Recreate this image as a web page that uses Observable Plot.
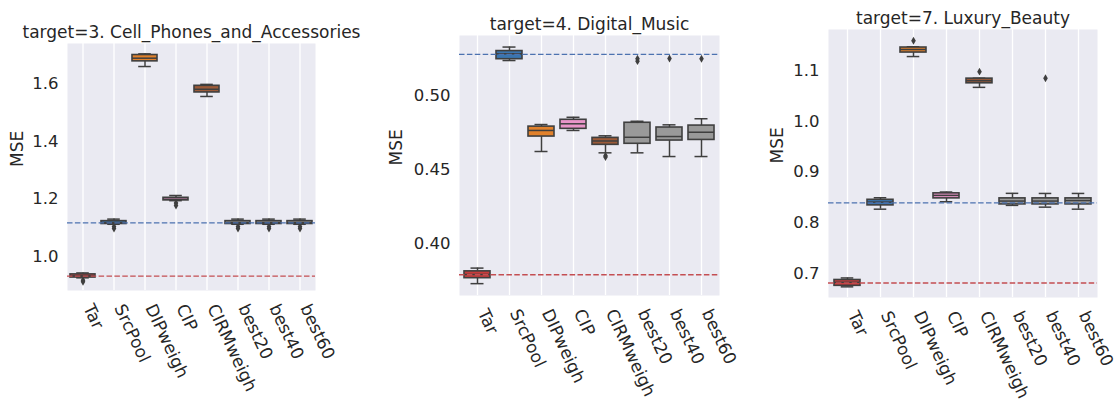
<!DOCTYPE html>
<html><head><meta charset="utf-8">
<script src="https://cdn.jsdelivr.net/npm/d3@7"></script>
<script src="https://cdn.jsdelivr.net/npm/@observablehq/plot@0.6"></script>
<style>
body{margin:0;background:#fff;}
#wrap{position:relative;width:1120px;height:404px;font-family:"DejaVu Sans",sans-serif;}
.panel{position:absolute;top:0;}
</style></head><body><div id="wrap"></div>
<script>
// ---------- data ----------
const categories = ["Tar","SrcPool","DIPweigh","CIP","CIRMweigh","best20","best40","best60"];
const boxColors  = ["#c83b3b","#3a75af","#e1812c","#e995c9","#9c5a38","#999999","#999999","#999999"];

// Panel 1: target=3. Cell_Phones_and_Accessories
const cellTitle = "target=3. Cell_Phones_and_Accessories";
const cellLo  = [0.926, 1.112, 1.660, 1.194, 1.556, 1.112, 1.112, 1.112];
const cellQ1  = [0.927, 1.113, 1.678, 1.195, 1.570, 1.113, 1.113, 1.113];
const cellMed = [0.933, 1.118, 1.689, 1.199, 1.581, 1.118, 1.118, 1.118];
const cellQ3  = [0.938, 1.123, 1.700, 1.204, 1.593, 1.123, 1.123, 1.123];
const cellHi  = [0.943, 1.130, 1.704, 1.212, 1.598, 1.130, 1.130, 1.130];
const cellOutCat = ["Tar","Tar","SrcPool","SrcPool","CIP","CIP","best20","best20","best40","best40","best60","best60"];
const cellOutVal = [0.918, 0.912, 1.104, 1.097, 1.186, 1.177, 1.104, 1.097, 1.104, 1.097, 1.104, 1.097];
const cellSrcLine = 1.117, cellTarLine = 0.932;
const cellTicks = [1.0, 1.2, 1.4, 1.6];

// Panel 2: target=4. Digital_Music
const musicTitle = "target=4. Digital_Music";
const musicLo  = [0.3730, 0.5236, 0.4622, 0.4764, 0.4613, 0.4613, 0.4588, 0.4588];
const musicQ1  = [0.3767, 0.5245, 0.4723, 0.4775, 0.4667, 0.4674, 0.4696, 0.4700];
const musicMed = [0.3792, 0.5282, 0.4764, 0.4809, 0.4693, 0.4718, 0.4723, 0.4752];
const musicQ3  = [0.3813, 0.5300, 0.4790, 0.4836, 0.4714, 0.4816, 0.4784, 0.4797];
const musicHi  = [0.3835, 0.5327, 0.4804, 0.4853, 0.4728, 0.4826, 0.4802, 0.4843];
const musicOutCat = ["CIRMweigh","CIRMweigh","best20","best20","best40","best60"];
const musicOutVal = [0.4594, 0.4585, 0.5248, 0.5232, 0.5250, 0.5248];
const musicSrcLine = 0.5277, musicTarLine = 0.3790;
const musicTicks = [0.40, 0.45, 0.50];

// Panel 3: target=7. Luxury_Beauty
const luxTitle = "target=7. Luxury_Beauty";
const luxLo  = [0.674, 0.827, 1.1277, 0.8416, 1.067, 0.8345, 0.831, 0.827];
const luxQ1  = [0.676, 0.8345, 1.1356, 0.8483, 1.075, 0.8364, 0.8364, 0.8364];
const luxMed = [0.683, 0.841, 1.1416, 0.8542, 1.0802, 0.843, 0.843, 0.844];
const luxQ3  = [0.6875, 0.8455, 1.1455, 0.8582, 1.0842, 0.8483, 0.8483, 0.8483];
const luxHi  = [0.6915, 0.8495, 1.1470, 0.8608, 1.0850, 0.8582, 0.858, 0.858];
const luxOutCat = ["DIPweigh","CIRMweigh","best40"];
const luxOutVal = [1.159, 1.098, 1.085];
const luxSrcLine = 0.8396, luxTarLine = 0.6816;
const luxTicks = [0.7, 0.8, 0.9, 1.0, 1.1];

// ---------- drawing ----------
const edge = "#3f3f3f";
const textColor = "#262626";
const thinDiamond = {
  draw(ctx, size) {
    const h = Math.sqrt(size / Math.PI) * 1.2, w = h * 0.58;
    ctx.moveTo(0, -h); ctx.lineTo(w, 0); ctx.lineTo(0, h); ctx.lineTo(-w, 0); ctx.closePath();
  }
};

function panel(o) {
  const rows = categories.map((c, i) => ({c, lo: o.lo[i], q1: o.q1[i], med: o.med[i], q3: o.q3[i], hi: o.hi[i], color: o.colors[i]}));
  const outs = o.outCat.map((c, i) => ({c, v: o.outVal[i]}));
  const step = (o.width - o.ml - o.mr) / categories.length;
  const capInset = step * 0.8 / 4;
  const svg = Plot.plot({
    width: o.width, height: 404,
    marginLeft: o.ml, marginRight: o.mr, marginTop: o.mt, marginBottom: o.mb,
    style: {fontFamily: "DejaVu Sans, sans-serif", fontSize: "16.5px", color: textColor, background: "transparent", overflow: "visible"},
    x: {domain: categories, paddingInner: 0.2, paddingOuter: 0.1, axis: null},
    y: {domain: o.domain, axis: null},
    marks: [
      Plot.frame({fill: "#eaeaf2", stroke: null}),
      Plot.gridX(categories, {stroke: "white", strokeOpacity: 1, strokeWidth: 1.3}),
      Plot.axisY({ticks: o.ticks, tickFormat: d3.format(o.fmt), tickSize: 0, tickPadding: 9, label: null, fontSize: 16.5, fill: textColor}),
      Plot.text(categories, {x: d => d, frameAnchor: "bottom", dx: 11, dy: 12, rotate: 65, textAnchor: "start", lineAnchor: "top", fontSize: 17, fill: textColor}),
      Plot.ruleX(rows, {x: "c", y1: "q3", y2: "hi", stroke: edge, strokeWidth: 1.5}),
      Plot.ruleX(rows, {x: "c", y1: "lo", y2: "q1", stroke: edge, strokeWidth: 1.5}),
      Plot.tickY(rows, {x: "c", y: "hi", stroke: edge, strokeWidth: 1.5, inset: capInset}),
      Plot.tickY(rows, {x: "c", y: "lo", stroke: edge, strokeWidth: 1.5, inset: capInset}),
      Plot.barY(rows, {x: "c", y1: "q1", y2: "q3", fill: "color", stroke: edge, strokeWidth: 1.6}),
      Plot.tickY(rows, {x: "c", y: "med", stroke: edge, strokeWidth: 1.5}),
      Plot.dot(outs, {x: "c", y: "v", symbol: thinDiamond, r: 3.3, fill: edge, stroke: null}),
      Plot.ruleY([o.src], {y: d => d, stroke: "#4c72b0", strokeWidth: 1.3, strokeDasharray: "5.5,2.4"}),
      Plot.ruleY([o.tar], {y: d => d, stroke: "#c44e52", strokeWidth: 1.3, strokeDasharray: "5.5,2.4"}),
      Plot.text([o.title], {frameAnchor: "top", dy: -6, lineAnchor: "bottom", fontSize: 17, fill: textColor}),
      Plot.text(["MSE"], {frameAnchor: "left", dx: o.labelDx, rotate: -90, fontSize: 17, fill: textColor})
    ]
  });
  const div = document.createElement("div");
  div.className = "panel";
  div.style.left = o.left + "px";
  div.appendChild(svg);
  document.getElementById("wrap").appendChild(div);
}

panel({title: cellTitle, lo: cellLo, q1: cellQ1, med: cellMed, q3: cellQ3, hi: cellHi, colors: boxColors,
  outCat: cellOutCat, outVal: cellOutVal, src: cellSrcLine, tar: cellTarLine,
  domain: [0.882, 1.740], ticks: cellTicks, fmt: ".1f",
  left: 0, width: 373, ml: 67, mr: 58, mt: 43, mb: 114, labelDx: -49.5});
panel({title: musicTitle, lo: musicLo, q1: musicQ1, med: musicMed, q3: musicQ3, hi: musicHi, colors: boxColors,
  outCat: musicOutCat, outVal: musicOutVal, src: musicSrcLine, tar: musicTarLine,
  domain: [0.365, 0.5405], ticks: musicTicks, fmt: ".2f",
  left: 373, width: 373, ml: 86, mr: 27, mt: 35, mb: 109, labelDx: -62.5});
panel({title: luxTitle, lo: luxLo, q1: luxQ1, med: luxMed, q3: luxQ3, hi: luxHi, colors: boxColors,
  outCat: luxOutCat, outVal: luxOutVal, src: luxSrcLine, tar: luxTarLine,
  domain: [0.653, 1.181], ticks: luxTicks, fmt: ".1f",
  left: 746, width: 374, ml: 82, mr: 23, mt: 29, mb: 107, labelDx: -51.3});
</script>
</body></html>
